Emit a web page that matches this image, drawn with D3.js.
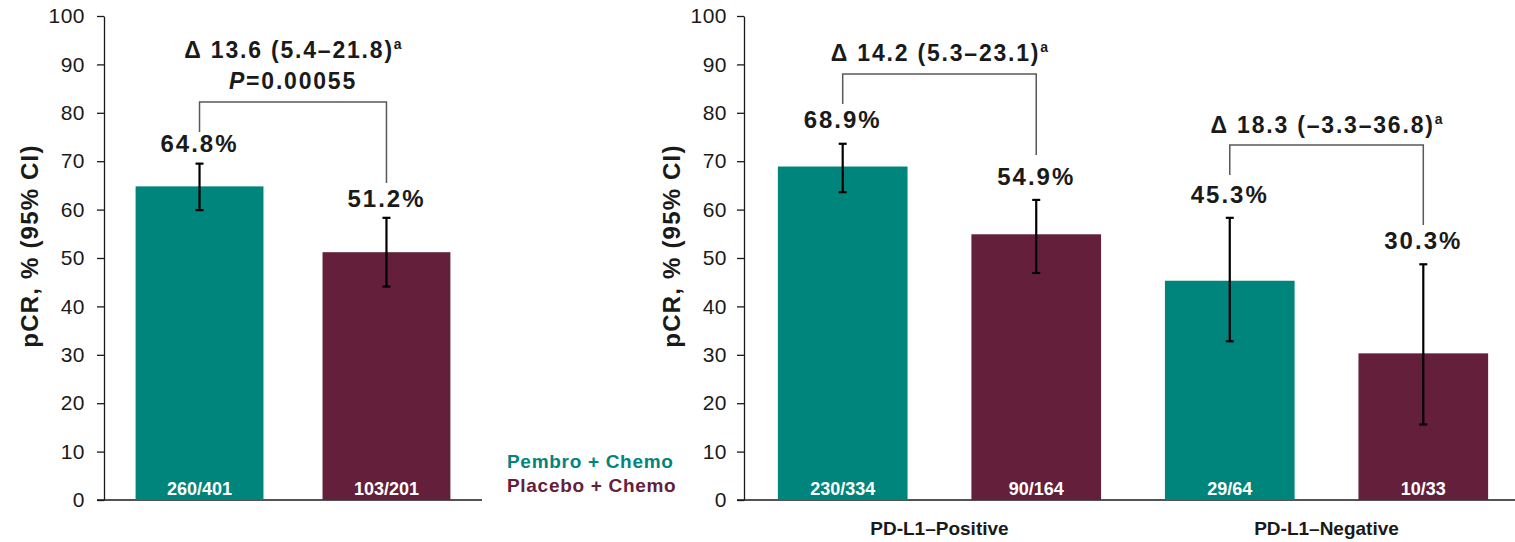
<!DOCTYPE html>
<html>
<head>
<meta charset="utf-8">
<script src="https://cdn.jsdelivr.net/npm/d3@7"></script>
<style>
  html, body { margin: 0; padding: 0; background: #fff; }
  svg { display: block; font-family: "Liberation Sans", Arial, sans-serif; }
  .axis text { font-size: 21px; fill: #1a1a1a; letter-spacing: 0.5px; }
  .axis path, .axis line { stroke: #1a1a1a; stroke-width: 1.3; }
</style>
</head>
<body>
<svg id="chart" width="1515" height="542"></svg>
<script>
// overall population
const overallArms = ["Pembro + Chemo", "Placebo + Chemo"];
const overallPcr = [64.8, 51.2];
const overallLow = [59.9, 44.1];
const overallHigh = [69.5, 58.3];
const overallCounts = ["260/401", "103/201"];
const overallDelta = "Δ 13.6 (5.4–21.8)";
const overallP = "0.00055";

// PD-L1 subgroups (pembro, placebo per group)
const subgroups = ["PD-L1–Positive", "PD-L1–Negative"];
const subPcr = [68.9, 54.9, 45.3, 30.3];
const subLow = [63.6, 46.9, 32.8, 15.6];
const subHigh = [73.6, 62.0, 58.3, 48.7];
const subCounts = ["230/334", "90/164", "29/64", "10/33"];
const subDelta = ["Δ 14.2 (5.3–23.1)", "Δ 18.3 (–3.3–36.8)"];

const yTicks = [0, 10, 20, 30, 40, 50, 60, 70, 80, 90, 100];
const armColors = ["#00857c", "#64203b"];

const svg = d3.select("#chart");
const width = 1515;

const y = d3.scaleLinear().domain([0, 100]).range([500, 16]);

function drawYAxis(xPos, pad) {
  svg.append("g")
    .attr("class", "axis")
    .attr("transform", `translate(${xPos},0)`)
    .call(d3.axisLeft(y).tickValues(yTicks).tickSize(7).tickSizeOuter(0).tickPadding(pad));
}

function drawYLabel(xPos) {
  svg.append("text")
    .attr("transform", `translate(${xPos},246) rotate(-90)`)
    .attr("text-anchor", "middle")
    .attr("font-size", 24)
    .attr("font-weight", "bold")
    .attr("letter-spacing", 1.2)
    .attr("fill", "#1a1a1a")
    .text("pCR, % (95% CI)");
}

function drawBars(keys, x, pcr, low, high, counts, labelOffsets) {
  const g = svg.append("g");
  keys.forEach(function (k, i) {
    const cx = x(k) + x.bandwidth() / 2;
    g.append("rect")
      .attr("x", x(k))
      .attr("y", y(pcr[i]))
      .attr("width", x.bandwidth())
      .attr("height", y(0) - y(pcr[i]))
      .attr("fill", armColors[i % 2]);

    // error bar
    g.append("line")
      .attr("x1", cx).attr("x2", cx)
      .attr("y1", y(low[i])).attr("y2", y(high[i]))
      .attr("stroke", "#000").attr("stroke-width", 2.2);
    [low[i], high[i]].forEach(function (v) {
      g.append("line")
        .attr("x1", cx - 4).attr("x2", cx + 4)
        .attr("y1", y(v)).attr("y2", y(v))
        .attr("stroke", "#000").attr("stroke-width", 2.2);
    });

    g.append("text")
      .attr("x", cx)
      .attr("y", y(high[i]) - labelOffsets[i])
      .attr("text-anchor", "middle")
      .attr("font-size", 24)
      .attr("font-weight", "bold")
      .attr("letter-spacing", 2)
      .attr("fill", "#1a1a1a")
      .text(pcr[i].toFixed(1) + "%");

    g.append("text")
      .attr("x", cx)
      .attr("y", 495)
      .attr("text-anchor", "middle")
      .attr("font-size", 18)
      .attr("font-weight", "bold")
      .attr("fill", "#fff")
      .text(counts[i]);
  });
}

function drawBracket(x1, x2, yTop, y1, y2) {
  svg.append("path")
    .attr("d", `M${x1},${y1}V${yTop}H${x2}V${y2}`)
    .attr("fill", "none")
    .attr("stroke", "#595959")
    .attr("stroke-width", 1.5);
}

function deltaText(cx, baseY, str) {
  const t = svg.append("text")
    .attr("x", cx)
    .attr("y", baseY)
    .attr("text-anchor", "middle")
    .attr("font-size", 23)
    .attr("font-weight", "bold")
    .attr("letter-spacing", 1.8)
    .attr("fill", "#1a1a1a");
  t.append("tspan").text(str);
  t.append("tspan").attr("font-size", 14).attr("letter-spacing", 0).attr("dy", -9).text("a");
  return t;
}

// ---- left panel: overall ----
const xLeft = d3.scaleBand().domain(overallArms).range([104, 482]).paddingInner(0.316).paddingOuter(0.169);

svg.append("line")
  .attr("x1", 97).attr("x2", 482).attr("y1", y(0)).attr("y2", y(0))
  .attr("stroke", "#1a1a1a").attr("stroke-width", 1.3);
drawYAxis(104, 12);
drawYLabel(38);
drawBars(overallArms, xLeft, overallPcr, overallLow, overallHigh, overallCounts, [12, 11]);

const lc0 = xLeft(overallArms[0]) + xLeft.bandwidth() / 2;
const lc1 = xLeft(overallArms[1]) + xLeft.bandwidth() / 2;
drawBracket(lc0, lc1, 102, 132, 183);
deltaText((lc0 + lc1) / 2, 58, overallDelta);
const pText = svg.append("text")
  .attr("x", (lc0 + lc1) / 2)
  .attr("y", 89)
  .attr("text-anchor", "middle")
  .attr("font-size", 23)
  .attr("font-weight", "bold")
  .attr("letter-spacing", 1.8)
  .attr("fill", "#1a1a1a");
pText.append("tspan").attr("font-style", "italic").text("P");
pText.append("tspan").text("=" + overallP);

// legend
overallArms.forEach(function (name, i) {
  svg.append("text")
    .attr("x", 507)
    .attr("y", 468 + i * 24)
    .attr("font-size", 19)
    .attr("font-weight", "bold")
    .attr("letter-spacing", 0.7)
    .attr("fill", armColors[i])
    .text(name);
});

// ---- right panel: PD-L1 subgroups ----
const subKeys = [];
subgroups.forEach(function (g) {
  overallArms.forEach(function (a) { subKeys.push(g + "|" + a); });
});
const xRight = d3.scaleBand().domain(subKeys).range([744, 1522]).paddingInner(0.33).paddingOuter(0.175);

svg.append("line")
  .attr("x1", 737).attr("x2", width).attr("y1", y(0)).attr("y2", y(0))
  .attr("stroke", "#1a1a1a").attr("stroke-width", 1.3);
drawYAxis(744, 10);
drawYLabel(680);
drawBars(subKeys, xRight, subPcr, subLow, subHigh, subCounts, [16, 15, 15, 15]);

subgroups.forEach(function (g, gi) {
  const c0 = xRight(subKeys[gi * 2]) + xRight.bandwidth() / 2;
  const c1 = xRight(subKeys[gi * 2 + 1]) + xRight.bandwidth() / 2;
  if (gi === 0) {
    drawBracket(c0, c1, 74, 104, 155);
    deltaText((c0 + c1) / 2, 61, subDelta[gi]);
  } else {
    drawBracket(c0, c1, 145, 175, 225);
    deltaText((c0 + c1) / 2, 133, subDelta[gi]);
  }
  svg.append("text")
    .attr("x", (c0 + c1) / 2)
    .attr("y", 535)
    .attr("text-anchor", "middle")
    .attr("font-size", 19)
    .attr("font-weight", "bold")
    .attr("fill", "#1a1a1a")
    .text(g);
});
</script>
</body>
</html>
